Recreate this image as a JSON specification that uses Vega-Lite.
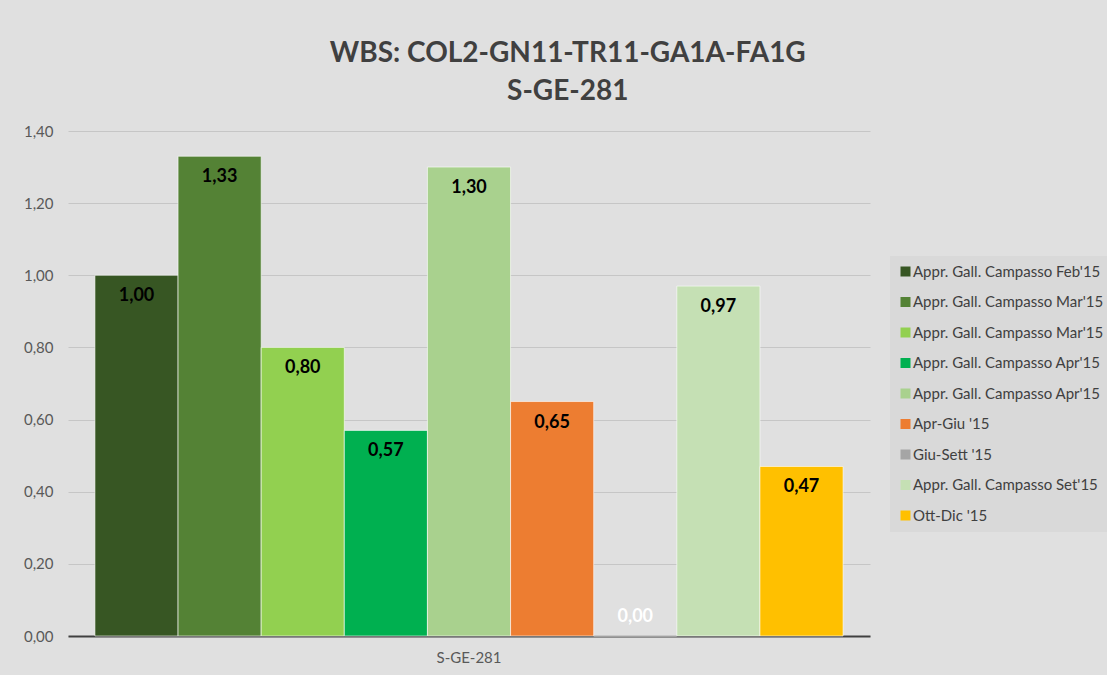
{
  "$schema": "https://vega.github.io/schema/vega-lite/v6.json",
  "width": 802,
  "height": 505,
  "autosize": {"type": "none"},
  "padding": {"left": 68, "top": 131, "right": 237, "bottom": 39},
  "background": "#e0e0e0",
  "config": {
    "font": "Lato",
    "view": {"stroke": null},
    "locale": {"number": {"decimal": ",", "thousands": ".", "grouping": [3], "currency": ["€", ""]}}
  },
  "title": {
    "text": ["WBS: COL2-GN11-TR11-GA1A-FA1G", "S-GE-281"],
    "font": "Lato",
    "fontSize": 28,
    "fontWeight": "bold",
    "color": "#404040",
    "anchor": "middle",
    "frame": "bounds",
    "offset": 18,
    "lineHeight": 38
  },
  "data": {
    "values": [
      {"cat": "S-GE-281", "k": "1", "series": "Appr. Gall. Campasso Feb'15", "value": 1.00},
      {"cat": "S-GE-281", "k": "2", "series": "Appr. Gall. Campasso Mar'15", "value": 1.33},
      {"cat": "S-GE-281", "k": "3", "series": "Appr. Gall. Campasso Mar'15", "value": 0.80},
      {"cat": "S-GE-281", "k": "4", "series": "Appr. Gall. Campasso Apr'15", "value": 0.57},
      {"cat": "S-GE-281", "k": "5", "series": "Appr. Gall. Campasso Apr'15", "value": 1.30},
      {"cat": "S-GE-281", "k": "6", "series": "Apr-Giu '15", "value": 0.65},
      {"cat": "S-GE-281", "k": "7", "series": "Giu-Sett '15", "value": 0.00},
      {"cat": "S-GE-281", "k": "8", "series": "Appr. Gall. Campasso Set'15", "value": 0.97},
      {"cat": "S-GE-281", "k": "9", "series": "Ott-Dic '15", "value": 0.47}
    ]
  },
  "encoding": {
    "x": {
      "field": "cat",
      "type": "nominal",
      "title": null,
      "scale": {"paddingInner": 0, "paddingOuter": 0.036},
      "axis": {
        "labelAngle": 0,
        "labelFont": "Lato",
        "labelFontSize": 15,
        "labelColor": "#595959",
        "labelPadding": 14,
        "ticks": false,
        "domainColor": "#404040",
        "domainWidth": 2
      }
    },
    "xOffset": {"field": "k", "type": "nominal", "scale": {"paddingInner": 0, "paddingOuter": 0}},
    "y": {
      "field": "value",
      "type": "quantitative",
      "title": null,
      "scale": {"domain": [0, 1.4], "nice": false},
      "axis": {
        "values": [0, 0.2, 0.4, 0.6, 0.8, 1.0, 1.2, 1.4],
        "format": ".2f",
        "labelFont": "Lato",
        "labelFontSize": 15,
        "labelColor": "#595959",
        "labelPadding": 15,
        "ticks": false,
        "domain": false,
        "gridColor": "#c6c6c6",
        "gridWidth": 1
      }
    }
  },
  "layer": [
    {
      "mark": {"type": "bar", "stroke": "#ffffff", "strokeWidth": 1, "strokeOpacity": 0.6},
      "encoding": {
        "color": {
          "field": "k",
          "type": "nominal",
          "scale": {
            "domain": ["1", "2", "3", "4", "5", "6", "7", "8", "9"],
            "range": ["#375623", "#548235", "#92d050", "#00b050", "#a9d18e", "#ed7d31", "#a5a5a5", "#c5e0b4", "#ffc000"]
          },
          "legend": {
            "title": null,
            "orient": "none",
            "legendX": 822,
            "legendY": 125,
            "padding": 8,
            "fillColor": "#d9d9d9",
            "symbolType": "square",
            "symbolSize": 100,
            "symbolStrokeWidth": 0,
            "labelFont": "Lato",
            "labelFontSize": 15,
            "labelColor": "#404040",
            "labelOffset": 0,
            "rowPadding": 14.5,
            "labelLimit": 300,
            "labelExpr": "[\"Appr. Gall. Campasso Feb'15\", \"Appr. Gall. Campasso Mar'15\", \"Appr. Gall. Campasso Mar'15\", \"Appr. Gall. Campasso Apr'15\", \"Appr. Gall. Campasso Apr'15\", \"Apr-Giu '15\", \"Giu-Sett '15\", \"Appr. Gall. Campasso Set'15\", \"Ott-Dic '15\"][toNumber(datum.value) - 1]"
          }
        }
      }
    },
    {
      "transform": [{"filter": "datum.value > 0"}],
      "mark": {"type": "text", "dy": 21, "baseline": "middle", "align": "center", "font": "Lato", "fontSize": 18, "fontWeight": "bold", "color": "#000000"},
      "encoding": {"text": {"field": "value", "type": "quantitative", "format": ".2f"}}
    },
    {
      "transform": [{"filter": "datum.value == 0"}],
      "mark": {"type": "text", "dy": -19, "baseline": "middle", "align": "center", "font": "Lato", "fontSize": 18, "fontWeight": "bold", "color": "#ffffff"},
      "encoding": {"text": {"field": "value", "type": "quantitative", "format": ".2f"}}
    }
  ]
}
